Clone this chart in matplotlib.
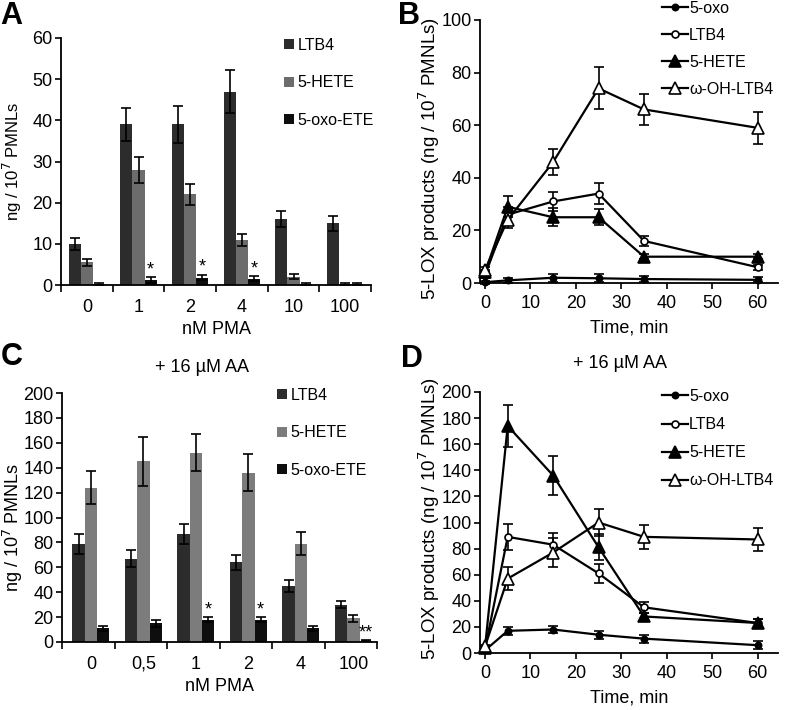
import matplotlib
matplotlib.use("Agg")
import matplotlib.pyplot as plt
import numpy as np

plt.rcParams['font.family'] = ['Liberation Sans', 'DejaVu Sans']

# ---- data ----
pma_a = ['0', '1', '2', '4', '10', '100']
ltb4_a = [10, 39, 39, 47, 16, 15]
ltb4_a_err = [1.5, 4, 4.5, 5.2, 2, 1.8]
hete_a = [5.5, 28, 22, 11, 2, 0.3]
hete_a_err = [0.8, 3.2, 2.5, 1.5, 0.6, 0.3]
oxo_a = [0.3, 1.3, 1.8, 1.5, 0.3, 0.3]
oxo_a_err = [0.2, 0.7, 0.7, 0.6, 0.2, 0.2]
stars_a = ['', '*', '*', '*', '', '']

pma_c = ['0', '0,5', '1', '2', '4', '100']
ltb4_c = [79, 67, 87, 64, 45, 30]
ltb4_c_err = [8, 7, 8, 6, 5, 3]
hete_c = [124, 145, 152, 136, 79, 19]
hete_c_err = [13, 20, 15, 15, 9, 3]
oxo_c = [11, 15, 18, 18, 11, 1]
oxo_c_err = [2, 3, 2, 2, 2, 0.5]
stars_c = ['', '', '*', '*', '', '**']

time = [0, 5, 15, 25, 35, 60]
oxo_b = [0.3, 1, 2, 1.8, 1.5, 1.2]
oxo_b_err = [0.5, 1, 1.5, 1.5, 1, 1]
ltb4_b = [3, 26, 31, 34, 16, 6]
ltb4_b_err = [1, 3, 3.5, 4, 2, 1]
hete_b = [4, 29, 25, 25, 10, 10]
hete_b_err = [1, 4, 3.5, 3, 1, 1]
wltb4_b = [5, 24, 46, 74, 66, 59]
wltb4_b_err = [1, 3, 5, 8, 6, 6]

oxo_d = [2, 17, 18, 14, 11, 6]
oxo_d_err = [1, 3, 3, 3, 3, 3]
ltb4_d = [3, 89, 83, 61, 35, 23]
ltb4_d_err = [1, 10, 9, 7, 4, 3]
hete_d = [4, 174, 136, 81, 28, 23]
hete_d_err = [1, 16, 15, 10, 3, 3]
wltb4_d = [5, 57, 77, 100, 89, 87]
wltb4_d_err = [1, 9, 11, 10, 9, 9]

W, H = 786, 710
fig = plt.figure(figsize=(7.86, 7.10), dpi=100)


def axes_px(l, r, t, b):
    return fig.add_axes([l / W, 1 - b / H, (r - l) / W, (b - t) / H])


TICK_FS = 13
LEG_FS = 11.5


def style(ax):
    for s in ['top', 'right']:
        ax.spines[s].set_visible(False)
    for s in ['left', 'bottom']:
        ax.spines[s].set_linewidth(1.3)
    ax.tick_params(labelsize=TICK_FS, width=1.2, length=4, pad=2)


def bar_panel(ax, cats, series, stars, ymax, ystep, hete_color, ylab_fs):
    x = np.arange(len(cats))
    w = 0.235
    colors = ['#2c2c2c', hete_color, '#0e0e0e']
    names = ['LTB4', '5-HETE', '5-oxo-ETE']
    for i, (vals, errs) in enumerate(series):
        ax.bar(x + (i - 1) * w, vals, w, color=colors[i], label=names[i],
               yerr=errs, error_kw=dict(ecolor='black', elinewidth=1.2,
                                        capsize=3.5, capthick=1.2))
    oxo_vals, oxo_errs = series[2]
    for xi, s, v, e in zip(x, stars, oxo_vals, oxo_errs):
        if s:
            ax.text(xi + w, v + e - ymax * 0.005, s, ha='center', va='bottom',
                    fontsize=13)
    ax.set_xlim(-0.5, len(cats) - 0.5)
    ax.set_ylim(0, ymax)
    ax.set_yticks(np.arange(0, ymax + 1, ystep))
    ax.set_xticks(x)
    ax.set_xticklabels(cats)
    ax.set_xticks(np.arange(-0.5, len(cats)), minor=True)
    style(ax)
    ax.tick_params(axis='x', which='major', length=0, pad=10)
    ax.tick_params(axis='x', which='minor', length=5, width=1.2)
    ax.set_xlabel('nM PMA', fontsize=TICK_FS, labelpad=4)
    ax.set_ylabel('ng / 10$^7$ PMNLs', fontsize=ylab_fs)


def line_panel(ax, data, ymax, ystep):
    specs = [('5-oxo', 'o', 'black', 4.5),
             ('LTB4', 'o', 'white', 5),
             ('5-HETE', '^', 'black', 8),
             ('\u03c9-OH-LTB4', '^', 'white', 8)]
    handles = []
    for (name, m, fc, ms), (vals, errs) in zip(specs, data):
        cont = ax.errorbar(time, vals, yerr=errs, color='black', lw=1.6,
                           marker=m, mfc=fc, mec='black', ms=ms, mew=1.2,
                           capsize=3.5, capthick=1.2, elinewidth=1.2,
                           clip_on=False, zorder=3)
        cont[0].set_label(name)
        handles.append(cont[0])
    ax.set_xlim(-1.1, 64.5)
    ax.set_ylim(0, ymax)
    ax.set_xticks(np.arange(0, 61, 10))
    ax.set_yticks(np.arange(0, ymax + 1, ystep))
    style(ax)
    ax.tick_params(axis='x', pad=5)
    ax.set_xlabel('Time, min', fontsize=TICK_FS, labelpad=5)
    ax.set_ylabel('5-LOX products (ng / 10$^7$ PMNLs)', fontsize=13.5)
    return handles


# ---- A ----
axA = axes_px(61, 371, 38, 285)
bar_panel(axA, pma_a, [(ltb4_a, ltb4_a_err), (hete_a, hete_a_err),
                       (oxo_a, oxo_a_err)], stars_a, 60, 10, '#6c6c6c', 12)
axA.yaxis.set_label_coords(-0.12, 0.5)
axA.legend(loc='upper left', bbox_to_anchor=(284 / W, 1 - 38 / H),
           bbox_transform=fig.transFigure, frameon=False, fontsize=LEG_FS,
           handlelength=0.6, handleheight=0.6, handletextpad=0.25,
           labelspacing=1.4, borderpad=0, borderaxespad=0)

# ---- B ----
axB = axes_px(480, 778, 20, 283)
hB = line_panel(axB, [(oxo_b, oxo_b_err), (ltb4_b, ltb4_b_err),
                      (hete_b, hete_b_err), (wltb4_b, wltb4_b_err)], 100, 20)
axB.yaxis.set_label_coords(-0.127, 0.475)
axB.legend(handles=hB, loc='upper left', bbox_to_anchor=(662 / W, 1 - 1 / H),
           bbox_transform=fig.transFigure, frameon=False, fontsize=LEG_FS,
           handlelength=1.6, handletextpad=0.1, labelspacing=0.75,
           borderpad=0, borderaxespad=0)

# ---- C ----
axC = axes_px(62, 377, 393, 642)
bar_panel(axC, pma_c, [(ltb4_c, ltb4_c_err), (hete_c, hete_c_err),
                       (oxo_c, oxo_c_err)], stars_c, 200, 20, '#7c7c7c', 13)
axC.set_xlim(-0.55, 5.45)
axC.set_xticks(np.arange(-0.55, 6), minor=True)
axC.yaxis.set_label_coords(-0.116, 0.46)
axC.legend(loc='upper left', bbox_to_anchor=(277 / W, 1 - 388 / H),
           bbox_transform=fig.transFigure, frameon=False, fontsize=LEG_FS,
           handlelength=0.6, handleheight=0.6, handletextpad=0.25,
           labelspacing=1.4, borderpad=0, borderaxespad=0)

# ---- D ----
axD = axes_px(480, 778, 392, 653)
hD = line_panel(axD, [(oxo_d, oxo_d_err), (ltb4_d, ltb4_d_err),
                      (hete_d, hete_d_err), (wltb4_d, wltb4_d_err)], 200, 20)
axD.yaxis.set_label_coords(-0.127, 0.515)
axD.legend(handles=hD, loc='upper left', bbox_to_anchor=(662 / W, 1 - 389 / H),
           bbox_transform=fig.transFigure, frameon=False, fontsize=LEG_FS,
           handlelength=1.6, handletextpad=0.1, labelspacing=0.82,
           borderpad=0, borderaxespad=0)

# titles and panel letters
fig.text(202 / W, 1 - 368 / H, '+ 16 \u00b5M AA', ha='center', va='center',
         fontsize=13)
fig.text(620 / W, 1 - 364 / H, '+ 16 \u00b5M AA', ha='center', va='center',
         fontsize=13)
for lab, px, py in [('A', 0, 16), ('B', 398, 16), ('C', 1, 357), ('D', 401, 359)]:
    fig.text(px / W, 1 - py / H, lab, ha='left', va='center', fontsize=22,
             fontweight='bold')

fig.savefig('out.png', dpi=100)
